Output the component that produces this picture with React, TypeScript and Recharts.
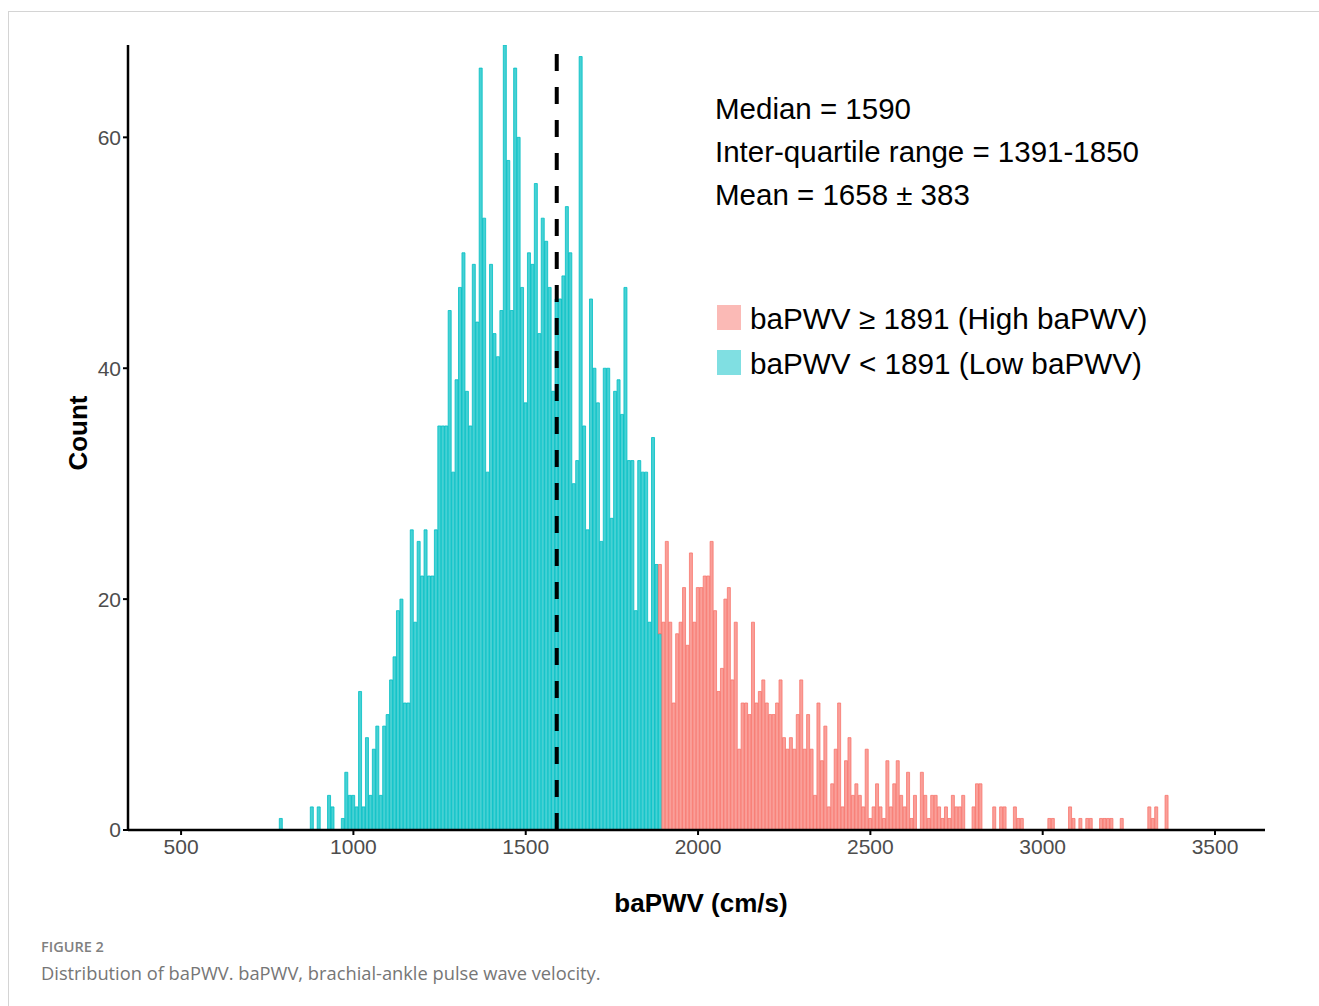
import { BarChart, XAxis, YAxis, Bar, ReferenceLine } from "recharts";

// histogram bins, 10 cm/s wide, values are bin centres
const BIN_WIDTH = 10;
const LOW_START = 790;
const HIGH_START = 1890;

// baPWV < 1891, counts per bin from 790 to 1890
const lowCounts = [
  1, 0, 0, 0, 0, 0, 0, 0, 0, 2, 0, 2, 0, 0, 3, 2, 0, 0, 1, 5,
  3, 3, 2, 12, 2, 8, 3, 7, 9, 3, 9, 10, 13, 15, 19, 20, 11, 11, 26, 18,
  25, 22, 26, 22, 22, 26, 35, 35, 35, 45, 31, 39, 47, 50, 38, 35, 49, 44, 66, 53,
  31, 49, 43, 41, 45, 68, 58, 45, 66, 60, 47, 37, 50, 49, 56, 43, 53, 51, 47, 38,
  46, 46, 48, 54, 50, 30, 32, 67, 35, 26, 46, 40, 37, 25, 40, 40, 27, 38, 39, 36,
  47, 32, 32, 19, 32, 31, 31, 18, 34, 23, 17,
];

// baPWV >= 1891, counts per bin from 1890 to 3360
const highCounts = [
  6, 18, 25, 18, 11, 17, 18, 21, 16, 24, 18, 21, 21, 22, 22, 25, 19, 12, 14, 20,
  21, 13, 18, 7, 11, 11, 10, 18, 11, 12, 13, 11, 10, 10, 11, 13, 8, 7, 8, 7,
  10, 13, 7, 10, 7, 3, 11, 6, 9, 2, 4, 7, 11, 2, 6, 8, 3, 4, 3, 2,
  7, 1, 2, 4, 2, 1, 6, 2, 4, 6, 3, 2, 5, 1, 3, 0, 5, 3, 1, 3,
  3, 2, 1, 2, 1, 3, 2, 2, 3, 0, 0, 2, 4, 4, 0, 0, 0, 2, 0, 2,
  2, 0, 0, 2, 1, 1, 0, 0, 0, 0, 0, 0, 0, 1, 1, 0, 0, 0, 0, 2,
  1, 0, 1, 0, 1, 1, 0, 0, 1, 1, 1, 1, 0, 0, 1, 0, 0, 0, 0, 0,
  0, 0, 2, 1, 2, 0, 0, 3,
];

const xTicks = [500, 1000, 1500, 2000, 2500, 3000, 3500];
const yTicks = [0, 20, 40, 60];
const MEDIAN = 1590;

const statLines = [
  "Median = 1590",
  "Inter-quartile range = 1391-1850",
  "Mean = 1658 \u00b1 383",
];

const legendItems = [
  { label: "baPWV \u2265 1891 (High baPWV)", color: "#FBBAB6" },
  { label: "baPWV < 1891 (Low baPWV)", color: "#80DFE2" },
];

const data: { bin: number; low: number; high: number }[] = [];
const lastBin = HIGH_START + (highCounts.length - 1) * BIN_WIDTH;
for (let b = LOW_START; b <= lastBin; b += BIN_WIDTH) {
  const li = (b - LOW_START) / BIN_WIDTH;
  const hi = (b - HIGH_START) / BIN_WIDTH;
  data.push({
    bin: b,
    low: li < lowCounts.length ? lowCounts[li] : 0,
    high: hi >= 0 ? highCounts[hi] : 0,
  });
}

const FONT = "'Liberation Sans', Arial, sans-serif";

export default function App() {
  return (
    <div
      style={{
        position: "absolute",
        left: 0,
        top: 0,
        width: 1319,
        height: 1006,
        background: "#fff",
        overflow: "hidden",
        fontFamily: FONT,
      }}
    >
      <div
        style={{
          position: "absolute",
          left: 8,
          top: 11,
          width: 1320,
          height: 1000,
          borderTop: "1.5px solid #d4d4d4",
          borderLeft: "1.5px solid #d4d4d4",
        }}
      />
      <div style={{ position: "absolute", left: 0, top: 0 }}>
        <BarChart
          width={1319}
          height={1006}
          data={data}
          margin={{ top: 45, right: 54, left: 68, bottom: 136 }}
          barCategoryGap={0}
          barGap={0}
        >
          <XAxis
            dataKey="bin"
            type="number"
            domain={[346, 3645]}
            allowDataOverflow
            ticks={xTicks}
            interval={0}
            height={40}
            tickSize={5}
            tickMargin={4}
            tick={{ fontSize: 21, fill: "#4d4d4d", fontFamily: FONT }}
            tickLine={{ stroke: "#000", strokeWidth: 2 }}
            axisLine={{ stroke: "#000", strokeWidth: 2.5 }}
          />
          <YAxis
            type="number"
            domain={[0, 68]}
            allowDataOverflow
            ticks={yTicks}
            width={60}
            tickSize={5}
            tick={{ fontSize: 21, fill: "#4d4d4d", fontFamily: FONT }}
            tickLine={{ stroke: "#000", strokeWidth: 2 }}
            axisLine={{ stroke: "#000", strokeWidth: 2.5 }}
          />
          <Bar
            dataKey="low"
            stackId="a"
            fill="#00BFC4"
            fillOpacity={0.72}
            stroke="#00BFC4"
            strokeWidth={0.8}
            isAnimationActive={false}
          />
          <Bar
            dataKey="high"
            stackId="a"
            fill="#F8766D"
            fillOpacity={0.7}
            stroke="#F8766D"
            strokeWidth={0.8}
            isAnimationActive={false}
          />
          <ReferenceLine
            x={MEDIAN}
            stroke="#000"
            strokeWidth={4}
            strokeDasharray="17 16"
          />
        </BarChart>
      </div>

      {statLines.map((t, i) => (
        <div
          key={t}
          style={{
            position: "absolute",
            left: 715,
            top: 94 + i * 43,
            fontSize: 29.5,
            lineHeight: "29px",
            color: "#000",
            whiteSpace: "nowrap",
          }}
        >
          {t}
        </div>
      ))}

      {legendItems.map((it, i) => (
        <div key={it.label}>
          <div
            style={{
              position: "absolute",
              left: 717,
              top: 305 + i * 45,
              width: 24,
              height: 25,
              background: it.color,
            }}
          />
          <div
            style={{
              position: "absolute",
              left: 750,
              top: 304 + i * 45,
              fontSize: 29.7,
              lineHeight: "29px",
              color: "#000",
              whiteSpace: "nowrap",
            }}
          >
            {it.label}
          </div>
        </div>
      ))}

      <div
        style={{
          position: "absolute",
          left: 78,
          top: 433,
          transform: "translate(-50%, -50%) rotate(-90deg)",
          fontSize: 26,
          fontWeight: "bold",
          color: "#000",
          whiteSpace: "nowrap",
        }}
      >
        Count
      </div>
      <div
        style={{
          position: "absolute",
          left: 701,
          top: 903,
          transform: "translate(-50%, -50%)",
          fontSize: 26,
          fontWeight: "bold",
          color: "#000",
          whiteSpace: "nowrap",
        }}
      >
        baPWV (cm/s)
      </div>

      <div
        style={{
          position: "absolute",
          left: 41,
          top: 938,
          fontFamily: "'Open Sans', sans-serif",
          fontSize: 14.5,
          fontWeight: 600,
          color: "#808080",
          lineHeight: "18px",
        }}
      >
        FIGURE 2
      </div>
      <div
        style={{
          position: "absolute",
          left: 41,
          top: 960,
          fontFamily: "'Open Sans', sans-serif",
          fontSize: 18.3,
          color: "#767676",
          lineHeight: "26px",
          whiteSpace: "nowrap",
        }}
      >
        Distribution of baPWV. baPWV, brachial-ankle pulse wave velocity.
      </div>
    </div>
  );
}
